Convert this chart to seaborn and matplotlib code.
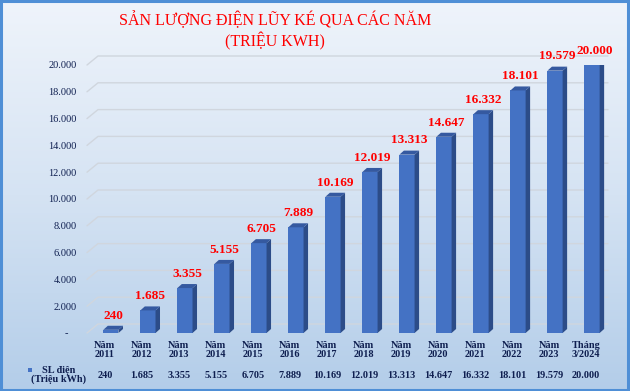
import numpy as np
import pandas as pd
import matplotlib
matplotlib.use("Agg")
import matplotlib.pyplot as plt
import matplotlib.transforms as mtrans
from matplotlib.colors import LinearSegmentedColormap
from matplotlib.patches import Polygon, Rectangle
import seaborn as sns

# ---------------- data ----------------
title_lines = ["SẢN LƯỢNG ĐIỆN LŨY KÉ QUA CÁC NĂM", "(TRIỆU KWH)"]
categories = ["Năm\n2011", "Năm\n2012", "Năm\n2013", "Năm\n2014", "Năm\n2015",
              "Năm\n2016", "Năm\n2017", "Năm\n2018", "Năm\n2019", "Năm\n2020",
              "Năm\n2021", "Năm\n2022", "Năm\n2023", "Tháng\n3/2024"]
values = [240, 1685, 3355, 5155, 6705, 7889, 10169, 12019, 13313, 14647,
          16332, 18101, 19579, 20000]
value_labels = ["240", "1.685", "3.355", "5.155", "6.705", "7.889", "10.169",
                "12.019", "13.313", "14.647", "16.332", "18.101", "19.579", "20.000"]
yticks = [0, 2000, 4000, 6000, 8000, 10000, 12000, 14000, 16000, 18000, 20000]
ytick_labels = ["-   ", "2.000", "4.000", "6.000", "8.000", "10.000", "12.000",
                "14.000", "16.000", "18.000", "20.000"]
series_name = "SL điện\n(Triệu kWh)"

# ---------------- style ----------------
sns.set_theme(style="white")
plt.rcParams['font.family'] = ['Liberation Serif', 'DejaVu Serif']

W, H = 630, 391
fig = plt.figure(figsize=(W / 100, H / 100), dpi=100)

# gradient background
bg = fig.add_axes([0, 0, 1, 1], zorder=-10)
grad = np.linspace(0, 1, 256)[:, None]
cmap = LinearSegmentedColormap.from_list("bg", ["#EFF4FB", "#D5E3F3", "#B3CDE9"])
bg.imshow(grad, aspect='auto', cmap=cmap, extent=[0, 1, 0, 1], origin='upper')
bg.set_xlim(0, 1); bg.set_ylim(0, 1)
bg.axis('off')
bg.add_patch(Rectangle((0.002, 0.003), 0.995, 0.994, transform=bg.transAxes,
                       fill=False, edgecolor="#4F8FD6", linewidth=2.2))

# main axes (front-face coordinates)
ax_l, ax_r, ax_t, ax_b = 85, 605, 65, 333
ax = fig.add_axes([ax_l / W, 1 - ax_b / H, (ax_r - ax_l) / W, (ax_b - ax_t) / H])
ax.set_facecolor("none")
ax.patch.set_alpha(0)

df = pd.DataFrame({"cat": categories, "val": values})
sns.barplot(data=df, x="cat", y="val", order=categories, color="#4472C4",
            saturation=1, width=0.41, ax=ax, zorder=3, linewidth=0)

xlim = (-0.70, 13.35)
ax.set_xlim(*xlim)
ax.set_ylim(0, 20000)
px_x = (xlim[1] - xlim[0]) / (ax_r - ax_l)
px_y = 20000 / (ax_b - ax_t)

# back-wall gridlines with perspective slant
gx, gy = 13 * px_x, 9 * px_y
for v in yticks:
    ax.plot([xlim[0] + 2 * px_x, xlim[0] + gx, xlim[1] + 3 * px_x],
            [v, v + gy, v + gy], color="#D0D6DE", lw=1.0, zorder=1, clip_on=False)

# 3D side/top faces of bars
dx, dy = 4.5 * px_x, 4 * px_y
for p, lbl in zip(ax.patches, value_labels):
    x0, w, h = p.get_x(), p.get_width(), p.get_height()
    ax.add_patch(Polygon([(x0 + w, 0), (x0 + w + dx, dy), (x0 + w + dx, h + dy), (x0 + w, h)],
                         closed=True, facecolor="#2C4C88", edgecolor="none", zorder=3))
    ax.add_patch(Polygon([(x0, h), (x0 + dx, h + dy), (x0 + w + dx, h + dy), (x0 + w, h)],
                         closed=True, facecolor="#3559A0", edgecolor="none", zorder=3))
    ax.annotate(lbl, (x0 + w / 2 + dx / 2, h + dy), xytext=(0, 3), textcoords="offset points",
                ha="center", va="bottom", color="#FF0000", fontweight="bold",
                fontsize=9.5, annotation_clip=False, zorder=5)

# axes cosmetics
for s in ax.spines.values():
    s.set_visible(False)
ax.set_yticks(yticks)
ax.set_yticklabels(ytick_labels, color="#0F1F50", fontsize=7.5)
ax.tick_params(axis="y", length=0, pad=6)
ax.set_xticks([])
ax.set_xlabel("")
ax.set_ylabel("")
ax.grid(False)

# data table below
tr = mtrans.blended_transform_factory(ax.transData, fig.transFigure)
for i, (cat, lbl) in enumerate(zip(categories, value_labels)):
    ax.text(i - 6 * px_x, 1 - 350 / H, cat, transform=tr, ha="center", va="center",
            fontsize=7.4, fontweight="bold", color="#0F1F50", linespacing=1.0)
    ax.text(i - 6 * px_x, 1 - 376 / H, lbl, transform=tr, ha="center", va="center",
            fontsize=7.4, fontweight="bold", color="#0F1F50")
fig.text(59 / W, 1 - 375 / H, series_name, ha="center", va="center", fontsize=7.4,
         fontweight="bold", color="#0F1F50", linespacing=1.0)
fig.patches.append(Rectangle((28 / W, 1 - 372 / H), 4 / W, 4 / H, transform=fig.transFigure,
                             facecolor="#4472C4", edgecolor="none"))

# title
fig.text(275 / W, 1 - 20 / H, title_lines[0], ha="center", va="center",
         color="#FF0000", fontsize=11.5)
fig.text(275 / W, 1 - 41 / H, title_lines[1], ha="center", va="center",
         color="#FF0000", fontsize=11.5)

fig.savefig("out.png", dpi=100)
